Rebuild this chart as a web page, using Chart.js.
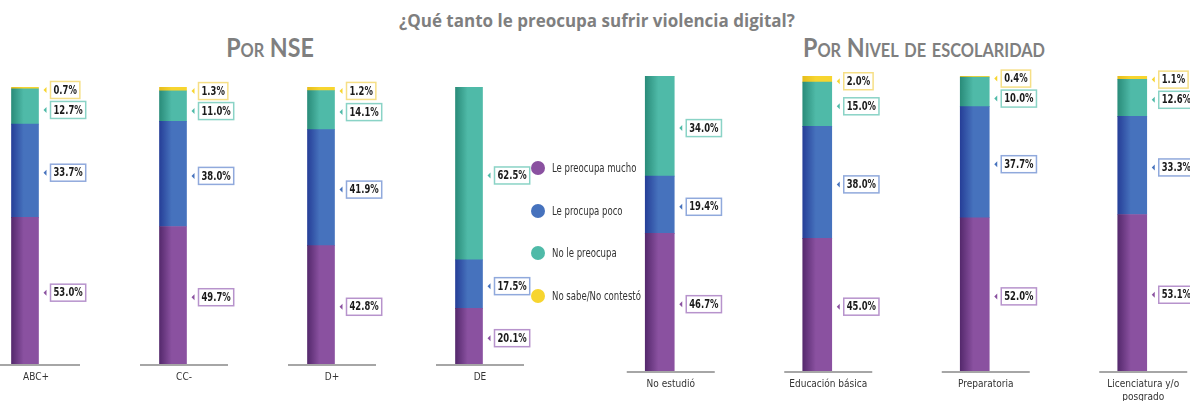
<!DOCTYPE html>
<html>
<head>
<meta charset="utf-8">
<script src="https://cdn.jsdelivr.net/npm/chart.js@4.4.1/dist/chart.umd.min.js"></script>
<style>
  body { margin: 0; width: 1190px; height: 401px; overflow: hidden; background: #fff; position: relative; }
  canvas { position: absolute; top: 0; }
  #title { position: absolute; top: 9px; left: 597px; transform: translateX(-50%); white-space: nowrap;
    font: bold 17px "Open Sans", sans-serif; color: #7f7f7f; }
  .sub { position: absolute; top: 30px; transform: translateX(-50%) scaleX(0.86); white-space: nowrap;
    font: bold 27px Lato, sans-serif; font-variant: small-caps; color: #7f7f7f; }
  #legend { position: absolute; left: 531px; top: 161px; }
  .item { height: 42.7px; display: flex; align-items: flex-start; font: 12.5px "DejaVu Sans Condensed", sans-serif; color: #333; }
  .dot { width: 14px; height: 14px; border-radius: 50%; margin-right: 7px; flex: none; }
  .item span { line-height: 14px; display: inline-block; transform: scaleX(0.76); transform-origin: left center; white-space: nowrap; }
</style>
</head>
<body>
<div id="title">¿Qué tanto le preocupa sufrir violencia digital?</div>
<div class="sub" style="left:270px">Por NSE</div>
<div class="sub" style="left:924px">Por Nivel de escolaridad</div>
<canvas id="nseChart" width="592" height="401" style="left:-49px"></canvas>
<canvas id="escChart" width="630" height="401" style="left:581px"></canvas>
<div id="legend"></div>
<script>
var seriesNames = ['Le preocupa mucho', 'Le procupa poco', 'No le preocupa', 'No sabe/No contestó'];
var seriesColors = ['#8a51a0', '#4672bd', '#4fbaa8', '#f7d52f'];
var shadeColors = ['#55296d', '#263f98', '#2a8c7a', '#e6bd1c'];
var boxColors = ['#b793cc', '#90a9dc', '#8ad3c6', '#f6df86'];

var nseLabels = ['ABC+', 'CC-', 'D+', 'DE'];
var nseMucho = [53.0, 49.7, 42.8, 20.1];
var nsePoco = [33.7, 38.0, 41.9, 17.5];
var nseNoPreocupa = [12.7, 11.0, 14.1, 62.5];
var nseNoSabe = [0.7, 1.3, 1.2, 0];

var escLabels = ['No estudió', 'Educación básica', 'Preparatoria', ['Licenciatura y/o', 'posgrado']];
var escMucho = [46.7, 45.0, 52.0, 53.1];
var escPoco = [19.4, 38.0, 37.7, 33.3];
var escNoPreocupa = [34.0, 15.0, 10.0, 12.6];
var escNoSabe = [0, 2.0, 0.4, 1.1];

var narrow = '"DejaVu Sans Condensed", sans-serif';

// legend
var legend = document.getElementById('legend');
seriesNames.forEach(function(name, i) {
  var row = document.createElement('div');
  row.className = 'item';
  row.innerHTML = '<div class="dot" style="background:' + seriesColors[i] + '"></div><span>' + name + '</span>';
  legend.appendChild(row);
});

function barFill(i, thickness) {
  return function(ctx) {
    var chart = ctx.chart;
    if (!chart.chartArea || ctx.type !== 'data') return seriesColors[i];
    var x = chart.scales.x.getPixelForValue(ctx.dataIndex);
    var g = chart.ctx.createLinearGradient(x - thickness / 2, 0, x + thickness / 2, 0);
    g.addColorStop(0, shadeColors[i]);
    g.addColorStop(0.45, seriesColors[i]);
    g.addColorStop(1, seriesColors[i]);
    return g;
  };
}

var calloutPlugin = {
  id: 'callouts',
  beforeDatasetsDraw: function(chart) {
    var c = chart.ctx, x = chart.scales.x, y = chart.chartArea.bottom + 1;
    c.save();
    c.strokeStyle = '#a6a6a6';
    c.lineWidth = 2;
    for (var i = 0; i < chart.data.labels.length; i++) {
      var cx = x.getPixelForValue(i) + 11;
      c.beginPath();
      c.moveTo(cx - 44, y);
      c.lineTo(cx + 44, y);
      c.stroke();
    }
    c.restore();
  },
  afterDatasetsDraw: function(chart) {
    var c = chart.ctx, sx = 0.78;
    c.save();
    c.font = 'bold 12px ' + narrow;
    c.textBaseline = 'middle';
    for (var i = 0; i < chart.data.labels.length; i++) {
      var prev = -1000;
      for (var d = chart.data.datasets.length - 1; d >= 0; d--) {
        var v = chart.data.datasets[d].data[i];
        if (!v) continue;
        var bar = chart.getDatasetMeta(d).data[i];
        var right = bar.x + bar.width / 2;
        var y = Math.max((bar.y + bar.base) / 2 + 2, prev + 20);
        prev = y;
        var txt = v.toFixed(1) + '%';
        var bw = c.measureText(txt).width * sx + 6, bh = 17, bx = right + 12;
        c.fillStyle = seriesColors[d];
        c.beginPath();
        c.moveTo(right + 5, y);
        c.lineTo(right + 8, y - 3);
        c.lineTo(right + 8, y + 3);
        c.closePath();
        c.fill();
        c.fillStyle = '#fff';
        c.fillRect(bx, y - bh / 2, bw, bh);
        c.strokeStyle = boxColors[d];
        c.lineWidth = 1.5;
        c.strokeRect(bx, y - bh / 2, bw, bh);
        c.save();
        c.translate(bx + 3, y + 0.5);
        c.scale(sx, 1);
        c.fillStyle = '#1a1a1a';
        c.fillText(txt, 0, 0);
        c.restore();
      }
    }
    c.restore();
  }
};

function makeChart(id, labels, series, thickness, topPad, axisHeight) {
  return new Chart(document.getElementById(id), {
    type: 'bar',
    data: {
      labels: labels,
      datasets: series.map(function(s, i) {
        return {
          label: seriesNames[i],
          data: s,
          backgroundColor: barFill(i, thickness),
          barThickness: thickness,
          borderWidth: 0
        };
      })
    },
    options: {
      responsive: false,
      animation: false,
      layout: { padding: { top: topPad, left: 0, right: 0, bottom: 0 } },
      plugins: { legend: { display: false }, tooltip: { enabled: false } },
      scales: {
        x: {
          stacked: true,
          grid: { display: false, drawTicks: false },
          border: { display: false },
          ticks: { labelOffset: 11, padding: 7, color: '#333', maxRotation: 0, autoSkip: false,
            font: { family: narrow, size: 10, lineHeight: 1.3 } },
          afterFit: function(s) { s.height = axisHeight; }
        },
        y: { stacked: true, display: false, min: 0, max: 100.1 }
      }
    },
    plugins: [calloutPlugin]
  });
}

makeChart('nseChart', nseLabels, [nseMucho, nsePoco, nseNoPreocupa, nseNoSabe], 27, 87, 37);
makeChart('escChart', escLabels, [escMucho, escPoco, escNoPreocupa, escNoSabe], 29, 76, 30);
</script>
</body>
</html>
